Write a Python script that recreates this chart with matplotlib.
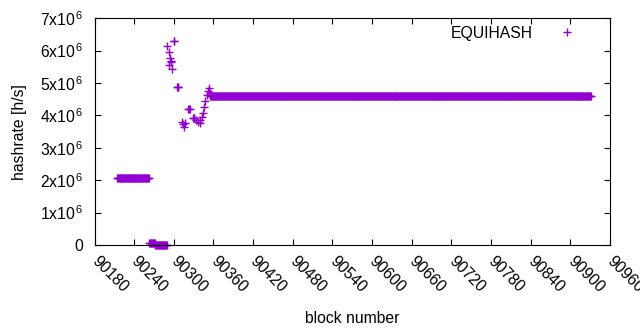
import numpy as np
import matplotlib
matplotlib.use("Agg")
import matplotlib.pyplot as plt
import matplotlib.transforms as mtransforms

# Plateaus (constant hashrate over block ranges)
seg_start = [90214, 90263, 90272, 90355]
seg_end = [90262, 90271, 90289, 90931]
seg_value = [2.08e6, 0.05e6, 0.01e6, 4.6e6]

# Individual scattered points
pt_blocks = [90290, 90292, 90293, 90294, 90295, 90296, 90298, 90300, 90301,
             90305, 90306, 90307, 90313, 90314, 90316, 90317, 90322, 90323,
             90324, 90329, 90330, 90331, 90334, 90337, 90339, 90340, 90343,
             90344, 90345, 90347, 90350, 90352, 90353, 90354]
pt_values = [6.14e6, 5.97e6, 5.56e6, 5.76e6, 5.66e6, 5.69e6, 5.43e6, 6.30e6, 6.30e6,
             4.87e6, 4.87e6, 4.87e6, 3.81e6, 3.72e6, 3.65e6, 3.75e6, 4.19e6, 4.19e6,
             4.19e6, 3.92e6, 3.92e6, 3.92e6, 3.85e6, 3.81e6, 3.77e6, 3.86e6, 3.94e6,
             4.07e6, 4.27e6, 4.45e6, 4.63e6, 4.75e6, 4.84e6, 4.70e6]

x_ticks = list(range(90180, 90961, 60))
y_ticks = [0, 1e6, 2e6, 3e6, 4e6, 5e6, 6e6, 7e6]
y_ticklabels = ["0"] + [r"%dx10$^{\,6}$" % i for i in range(1, 8)]

plt.rcParams['font.family'] = ['Liberation Sans', 'DejaVu Sans']
plt.rcParams['mathtext.fontset'] = 'custom'
plt.rcParams['mathtext.rm'] = 'Liberation Sans'
plt.rcParams['mathtext.it'] = 'Liberation Sans'
plt.rcParams['mathtext.default'] = 'regular'

FS = 11.3

blocks = []
vals = []
for s, e, v in zip(seg_start, seg_end, seg_value):
    b = np.arange(s, e + 1)
    blocks.extend(b.tolist())
    vals.extend([v] * len(b))
blocks.extend(pt_blocks)
vals.extend(pt_values)

fig = plt.figure(figsize=(6.4, 3.3), dpi=100)
ax = fig.add_axes([0.1477, 0.2576, 0.953 - 0.1477, 0.945 - 0.2576])
color = '#9400D3'
ax.plot(blocks, vals, linestyle='none', marker='+', markersize=5.4,
        markeredgewidth=1.0, color=color, label='EQUIHASH', clip_on=False)

ax.set_xlim(90180, 90960)
ax.set_ylim(0, 7e6)
ax.set_xticks(x_ticks)
ax.set_xticklabels([str(t) for t in x_ticks], rotation=-45, ha='left', va='top',
                   rotation_mode='anchor')
ax.set_yticks(y_ticks)
ax.set_yticklabels(y_ticklabels)
ax.tick_params(direction='in', length=4, width=0.8, top=True, right=True,
               labelsize=FS, colors='black')
ax.tick_params(axis='x', pad=6)
ax.tick_params(axis='y', pad=8)
offset = mtransforms.ScaledTranslation(5 / 100, 0, fig.dpi_scale_trans)
for lbl in ax.get_xticklabels():
    lbl.set_transform(lbl.get_transform() + offset)
for sp in ax.spines.values():
    sp.set_linewidth(0.8)

ax.set_xlabel('block number', fontsize=FS, labelpad=11)
ax.set_ylabel('hashrate [h/s]', fontsize=FS, labelpad=9)

leg = ax.legend(loc='upper right', frameon=False, markerfirst=False,
                fontsize=FS, handlelength=2.8, handletextpad=0.8,
                borderpad=0, borderaxespad=0,
                bbox_to_anchor=(0.9593, 0.967))

fig.savefig('out.png', dpi=100)
